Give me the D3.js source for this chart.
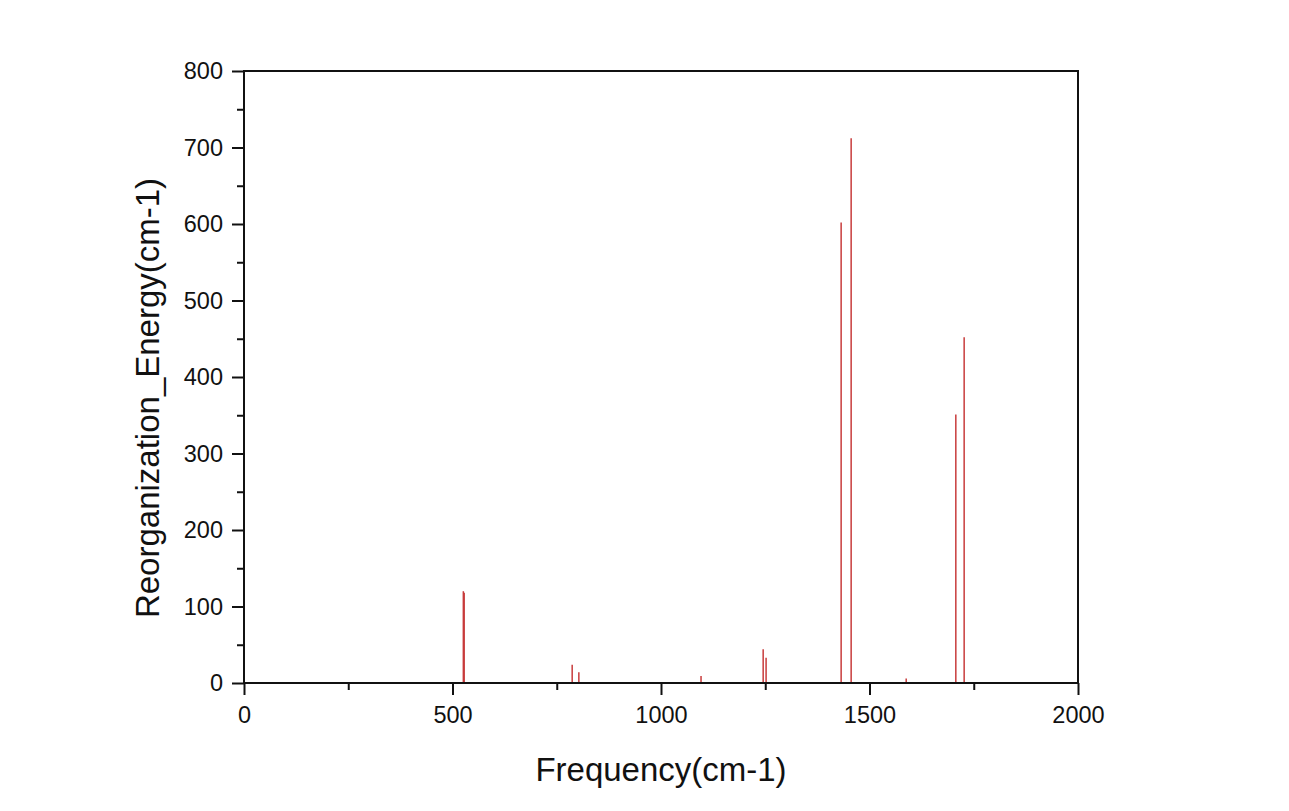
<!DOCTYPE html>
<html>
<head>
<meta charset="utf-8">
<script src="https://cdn.jsdelivr.net/npm/d3@7"></script>
<style>
  html, body { margin: 0; padding: 0; background: #fff; }
  svg { display: block; }
  text { font-family: "Liberation Sans", Arial, sans-serif; fill: #111; }
</style>
</head>
<body>
<svg id="chart" width="1289" height="811"></svg>
<script>
// Data
const frequencies = [526, 528, 787, 803, 1096, 1245, 1252, 1432, 1456, 1588, 1707, 1727];
const energies    = [120, 118, 24, 14, 9, 44, 33, 602, 712, 6, 351, 452];
const xTicks = [0, 500, 1000, 1500, 2000];
const yTicks = [0, 100, 200, 300, 400, 500, 600, 700, 800];
const xMinor = [250, 750, 1250, 1750];
const yMinor = [50, 150, 250, 350, 450, 550, 650, 750];
const xTitle = "Frequency(cm-1)";
const yTitle = "Reorganization_Energy(cm-1)";

const mLeft = 244, mRight = 1078, mTop = 71, mBottom = 683;
const svg = d3.select("#chart");
const x = d3.scaleLinear().domain([0, 2000]).range([mLeft, mRight]);
const y = d3.scaleLinear().domain([0, 800]).range([mBottom, mTop]);

// sticks
svg.append("g").selectAll("line").data(frequencies).join("line")
  .attr("x1", d => x(d)).attr("x2", d => x(d))
  .attr("y1", y(0)).attr("y2", (d, i) => y(energies[i]))
  .attr("stroke", "#c83c3c").attr("stroke-width", 1.5);

// frame
svg.append("rect").attr("x", mLeft).attr("y", mTop)
  .attr("width", mRight - mLeft).attr("height", mBottom - mTop)
  .attr("fill", "none").attr("stroke", "#111").attr("stroke-width", 2);

// x axis
const xAxis = svg.append("g").attr("transform", `translate(0,${mBottom})`)
  .call(d3.axisBottom(x).tickValues(xTicks).tickFormat(d3.format("d")).tickSize(12).tickPadding(11));
xAxis.select(".domain").remove();
xAxis.selectAll(".tick line").attr("stroke", "#111").attr("stroke-width", 2);
xAxis.selectAll(".tick text").attr("font-size", 23.5).attr("fill", "#111");
const xMin = svg.append("g").attr("transform", `translate(0,${mBottom})`)
  .call(d3.axisBottom(x).tickValues(xMinor).tickFormat("").tickSize(7));
xMin.select(".domain").remove();
xMin.selectAll(".tick line").attr("stroke", "#111").attr("stroke-width", 2);

// y axis
const yAxis = svg.append("g").attr("transform", `translate(${mLeft},0)`)
  .call(d3.axisLeft(y).tickValues(yTicks).tickFormat(d3.format("d")).tickSize(12).tickPadding(9));
yAxis.select(".domain").remove();
yAxis.selectAll(".tick line").attr("stroke", "#111").attr("stroke-width", 2);
yAxis.selectAll(".tick text").attr("font-size", 23.5).attr("fill", "#111");
const yMin = svg.append("g").attr("transform", `translate(${mLeft},0)`)
  .call(d3.axisLeft(y).tickValues(yMinor).tickFormat("").tickSize(7));
yMin.select(".domain").remove();
yMin.selectAll(".tick line").attr("stroke", "#111").attr("stroke-width", 2);

// titles
svg.append("text").attr("x", 661).attr("y", 781)
  .attr("text-anchor", "middle").attr("font-size", 33).text(xTitle);
svg.append("text").attr("transform", `translate(159,398) rotate(-90)`)
  .attr("text-anchor", "middle").attr("font-size", 33).text(yTitle);
</script>
</body>
</html>
